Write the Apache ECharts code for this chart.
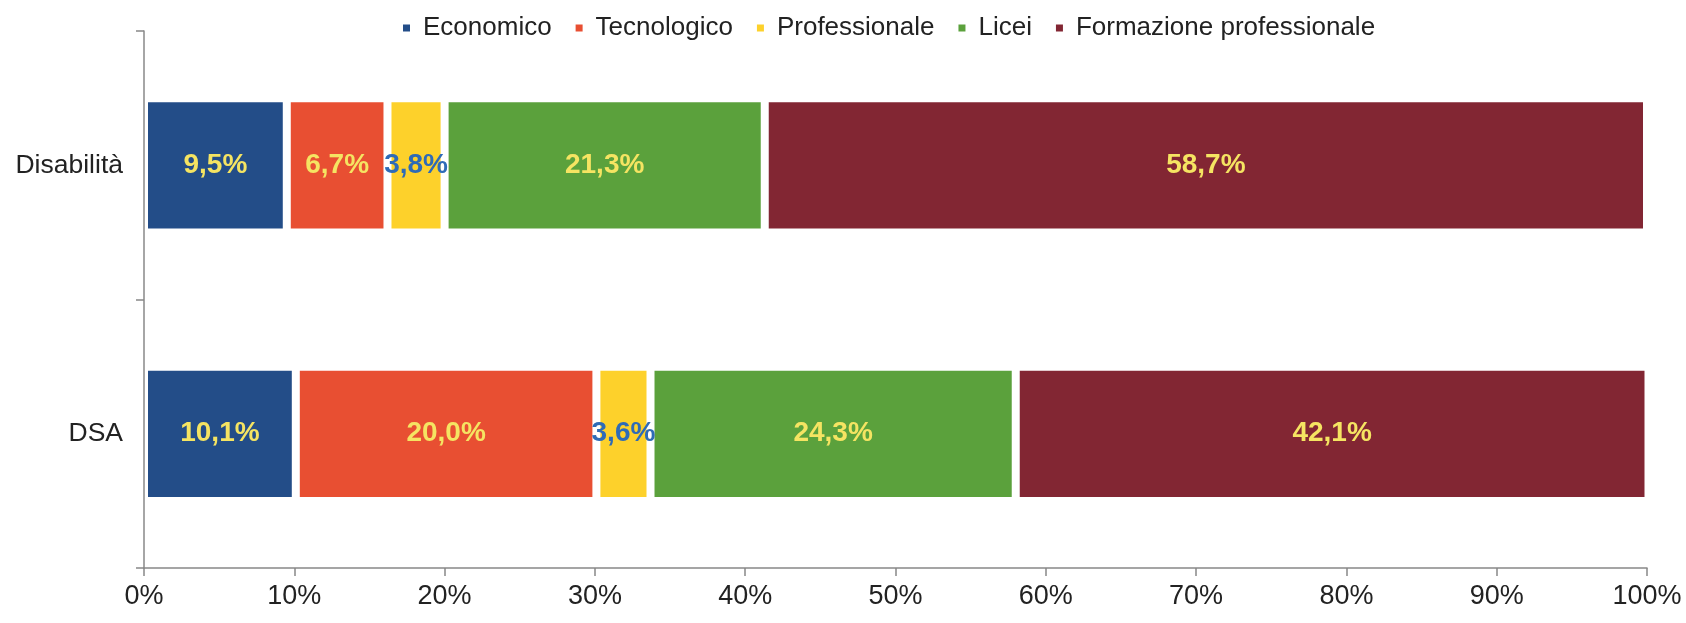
<!DOCTYPE html>
<html>
<head>
<meta charset="utf-8">
<script src="https://cdn.jsdelivr.net/npm/echarts@6/dist/echarts.min.js"></script>
<style>
  html, body { margin: 0; padding: 0; background: #fff; }
  #chart { width: 1686px; height: 623px; }
</style>
</head>
<body>
<div id="chart"></div>
<script>
// categorie (dall'alto verso il basso)
var categorie = ['Disabilità', 'DSA'];
// valori percentuali per indirizzo
var economico = [9.5, 10.1];
var tecnologico = [6.7, 20.0];
var professionale = [3.8, 3.6];
var licei = [21.3, 24.3];
var formazione = [58.7, 42.1];
var nomiSerie = ['Economico', 'Tecnologico', 'Professionale', 'Licei', 'Formazione professionale'];
var colori = ['#234d88', '#e84f32', '#fdd12b', '#5ba13c', '#822633'];
var coloriEtichette = ['#f5e462', '#f5e462', '#2e6bb7', '#f5e462', '#f5e462'];

var chart = echarts.init(document.getElementById('chart'));

var valori = [economico, tecnologico, professionale, licei, formazione];

// costruzione delle serie impilate
var series = nomiSerie.map(function (nome, i) {
    return {
        name: nome,
        type: 'bar',
        stack: 'totale',
        barWidth: '50%',
        data: valori[i],
        itemStyle: {
            color: colori[i],
            borderColor: '#fff',
            borderWidth: 4
        },
        label: {
            show: true,
            position: 'inside',
            color: coloriEtichette[i],
            fontWeight: 'bold',
            fontSize: 28,
            fontFamily: 'Liberation Sans',
            formatter: function (p) {
                return p.value.toFixed(1).replace('.', ',') + '%';
            }
        }
    };
});

var option = {
    animation: false,
    textStyle: { fontFamily: 'Liberation Sans' },
    legend: {
        top: 10,
        left: 396,
        itemWidth: 9,
        itemHeight: 9,
        itemGap: 22,
        icon: 'rect',
        textStyle: {
            fontSize: 26,
            color: '#222',
            fontFamily: 'Liberation Sans',
            padding: [0, 0, 0, 7]
        },
        data: nomiSerie
    },
    grid: {
        left: 144,
        right: 39,
        top: 31,
        bottom: 55,
        containLabel: false
    },
    xAxis: {
        type: 'value',
        min: 0,
        max: 100,
        interval: 10,
        z: 5,
        splitLine: { show: false },
        axisLine: { show: true, lineStyle: { color: '#888', width: 1.5 } },
        axisTick: { show: true, length: 8, lineStyle: { color: '#888', width: 1.5 } },
        axisLabel: {
            formatter: '{value}%',
            fontSize: 27,
            color: '#222',
            margin: 15
        }
    },
    yAxis: {
        type: 'category',
        inverse: true,
        data: categorie,
        z: 5,
        axisLine: { show: true, lineStyle: { color: '#888', width: 1.5 } },
        axisTick: { show: true, length: 8, lineStyle: { color: '#888', width: 1.5 } },
        axisLabel: {
            fontSize: 26.5,
            color: '#222',
            margin: 21
        }
    },
    series: series
};

chart.setOption(option);
</script>
</body>
</html>
